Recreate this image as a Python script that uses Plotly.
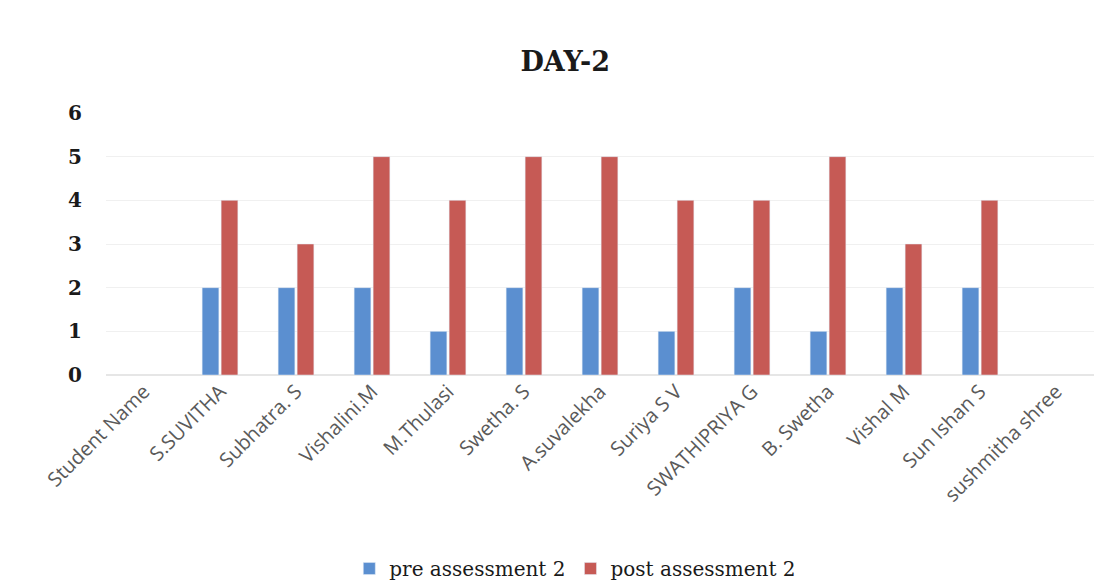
import plotly.graph_objects as go

categories = ["Student Name", "S.SUVITHA", "Subhatra. S", "Vishalini.M", "M.Thulasi",
              "Swetha. S", "A.suvalekha", "Suriya S V", "SWATHIPRIYA G", "B. Swetha",
              "Vishal M", "Sun Ishan S", "sushmitha shree"]
pre = [None, 2, 2, 2, 1, 2, 2, 1, 2, 1, 2, 2, None]
post = [None, 4, 3, 5, 4, 5, 5, 4, 4, 5, 3, 4, None]
y_ticks = [0, 1, 2, 3, 4, 5, 6]

fig = go.Figure()
fig.add_trace(go.Bar(x=categories, y=pre, name="pre assessment 2", marker_color="#5b8fd0"))
fig.add_trace(go.Bar(x=categories, y=post, name="post assessment 2", marker_color="#c65a55"))

fig.update_layout(
    width=1099, height=572,
    paper_bgcolor="white", plot_bgcolor="white",
    margin=dict(l=98, r=13, t=105, b=205, autoexpand=False),
    barmode="group", bargap=0.5, bargroupgap=0.12,
    title=dict(text="<b>DAY-2</b>", x=0.507, xanchor="center", y=0.906, yanchor="middle",
               font=dict(family="DejaVu Serif", size=27, color="#1a1a1a")),
    legend=dict(orientation="h", x=0.475, xanchor="center", y=0.02, yanchor="middle",
                yref="container",
                font=dict(family="DejaVu Serif", size=20, color="#1a1a1a"),
                itemwidth=30, traceorder="normal", tracegroupgap=0),
    showlegend=True,
)
fig.update_yaxes(range=[0, 6], tickvals=y_ticks, showgrid=True, gridcolor="#f0f0f0",
                 zeroline=True, zerolinecolor="#e6e6e6", automargin=False,
                 tickfont=dict(family="DejaVu Serif", size=20, color="#1a1a1a", weight="bold"),
                 ticks="", ticklabelstandoff=23)
fig.update_xaxes(tickangle=-45, showline=False, automargin=False,
                 tickfont=dict(family="Open Sans", size=20, color="#5a5a5a"))

fig.write_html("out.html")
